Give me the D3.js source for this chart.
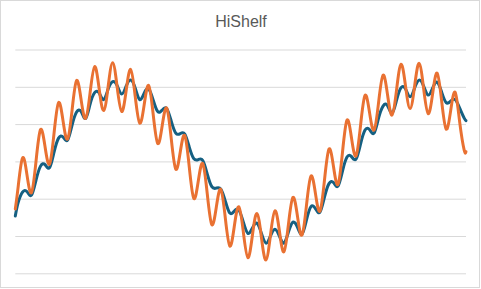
<!DOCTYPE html>
<html>
<head>
<meta charset="utf-8">
<script src="https://cdn.jsdelivr.net/npm/d3@7"></script>
<style>
  html, body { margin: 0; padding: 0; background: #ffffff; }
  svg { display: block; }
</style>
</head>
<body>
<svg id="chart" width="481" height="289"></svg>
<script>
// ---- data ----
const title = "HiShelf";

const samples = [0, 3, 8, 13, 18, 23, 28, 33, 38, 43, 48, 53, 58, 63, 68, 73, 78, 83, 88, 93,
  98, 103, 108, 113, 118, 123, 128, 133, 138, 143, 148, 153, 158, 163, 168, 173, 178, 183, 188, 193,
  198, 203, 208, 213, 218, 223, 228, 233, 238, 243, 248, 253, 258, 263, 268, 273, 278, 283, 288, 293,
  298, 303, 308, 313, 318, 323, 328, 333, 338, 343, 348, 353, 358, 363, 368, 373, 378, 383, 388, 393,
  398, 403, 408, 413, 418, 423, 428, 433, 438, 443, 448, 453, 458, 463, 468, 473, 478, 483, 488, 493,
  498, 500];

const inputSeries = [-0.733, -0.559, -0.412, -0.405, -0.452, -0.251, -0.063, -0.043, -0.083, 0.125,
  0.312, 0.326, 0.286, 0.487, 0.661, 0.668, 0.576, 0.768, 0.922, 0.916,
  0.828, 0.969, 1.070, 1.016, 0.902, 1.009, 1.090, 0.983, 0.828, 0.916,
  0.969, 0.822, 0.668, 0.688, 0.708, 0.540, 0.379, 0.373, 0.366, 0.192,
  0.038, 0.024, 0.011, -0.170, -0.338, -0.358, -0.371, -0.532, -0.693, -0.666,
  -0.653, -0.814, -0.965, -0.894, -0.827, -0.961, -1.095, -1.001, -0.908, -1.001,
  -1.095, -0.948, -0.814, -0.881, -0.975, -0.787, -0.606, -0.633, -0.680, -0.479,
  -0.298, -0.284, -0.331, -0.130, 0.058, 0.064, 0.031, 0.232, 0.420, 0.426,
  0.379, 0.580, 0.741, 0.748, 0.647, 0.822, 0.989, 0.969, 0.866, 0.983,
  1.090, 1.009, 0.889, 0.983, 1.063, 0.929, 0.788, 0.808, 0.828, 0.714,
  0.580, 0.547];

const hiShelfSeries = [-0.639, -0.358, 0.044, -0.184, -0.418, 0.004, 0.426, 0.198, -0.036, 0.379,
  0.788, 0.540, 0.299, 0.688, 1.083, 0.828, 0.576, 0.922, 1.271, 0.976,
  0.681, 1.003, 1.324, 0.996, 0.668, 0.949, 1.233, 0.875, 0.513, 0.761,
  1.016, 0.627, 0.241, 0.480, 0.714, 0.306, -0.103, 0.125, 0.346, -0.076,
  -0.496, -0.264, -0.029, -0.438, -0.847, -0.613, -0.375, -0.760, -1.135, -0.867,
  -0.609, -0.948, -1.290, -0.995, -0.697, -1.015, -1.323, -0.995, -0.662, -0.934,
  -1.212, -0.847, -0.483, -0.733, -0.988, -0.592, -0.197, -0.432, -0.666, -0.251,
  0.165, -0.070, -0.308, 0.125, 0.554, 0.312, 0.075, 0.480, 0.885, 0.654,
  0.420, 0.788, 1.157, 0.889, 0.621, 0.962, 1.302, 1.003, 0.708, 1.009,
  1.314, 0.976, 0.641, 0.909, 1.184, 0.808, 0.433, 0.681, 0.925, 0.527,
  0.151, 0.131];

const yTicks = [-1.5, -1.0, -0.5, 0, 0.5, 1.0, 1.5];

// ---- drawing ----
const svg = d3.select("#chart");
const W = 481, H = 289;

// chart area border
svg.append("rect")
  .attr("x", 0.5).attr("y", 0.5)
  .attr("width", W - 2).attr("height", H - 2)
  .attr("fill", "#ffffff")
  .attr("stroke", "#d9d9d9")
  .attr("stroke-width", 1);

const plot = { left: 15.3, right: 466, top: 49.5, bottom: 273.3 };

const x = d3.scaleLinear()
  .domain([samples[0], samples[samples.length - 1]])
  .range([plot.left, plot.right]);

const y = d3.scaleLinear()
  .domain([yTicks[0], yTicks[yTicks.length - 1]])
  .range([plot.bottom, plot.top]);

// gridlines via axis
const grid = svg.append("g")
  .attr("transform", `translate(${plot.left},0)`)
  .call(d3.axisLeft(y).tickValues(yTicks).tickSize(-(plot.right - plot.left)).tickFormat(""));
grid.select(".domain").remove();
grid.selectAll(".tick line")
  .attr("stroke", "#d9d9d9")
  .attr("stroke-width", 1);

// title
svg.append("text")
  .attr("x", 241)
  .attr("y", 27)
  .attr("text-anchor", "middle")
  .attr("font-family", "'Liberation Sans', Arial, sans-serif")
  .attr("font-size", 16)
  .attr("fill", "#595959")
  .text(title);

const line = d3.line()
  .x(d => x(d[0]))
  .y(d => y(d[1]))
  .curve(d3.curveNatural);

const series = [
  { name: "Input", values: inputSeries, color: "#156082" },
  { name: "HiShelf", values: hiShelfSeries, color: "#e97132" }
];

svg.append("g").selectAll("path")
  .data(series)
  .join("path")
  .attr("d", s => line(samples.map((t, i) => [t, s.values[i]])))
  .attr("fill", "none")
  .attr("stroke", s => s.color)
  .attr("stroke-width", 3)
  .attr("stroke-linejoin", "round")
  .attr("stroke-linecap", "round");
</script>
</body>
</html>
